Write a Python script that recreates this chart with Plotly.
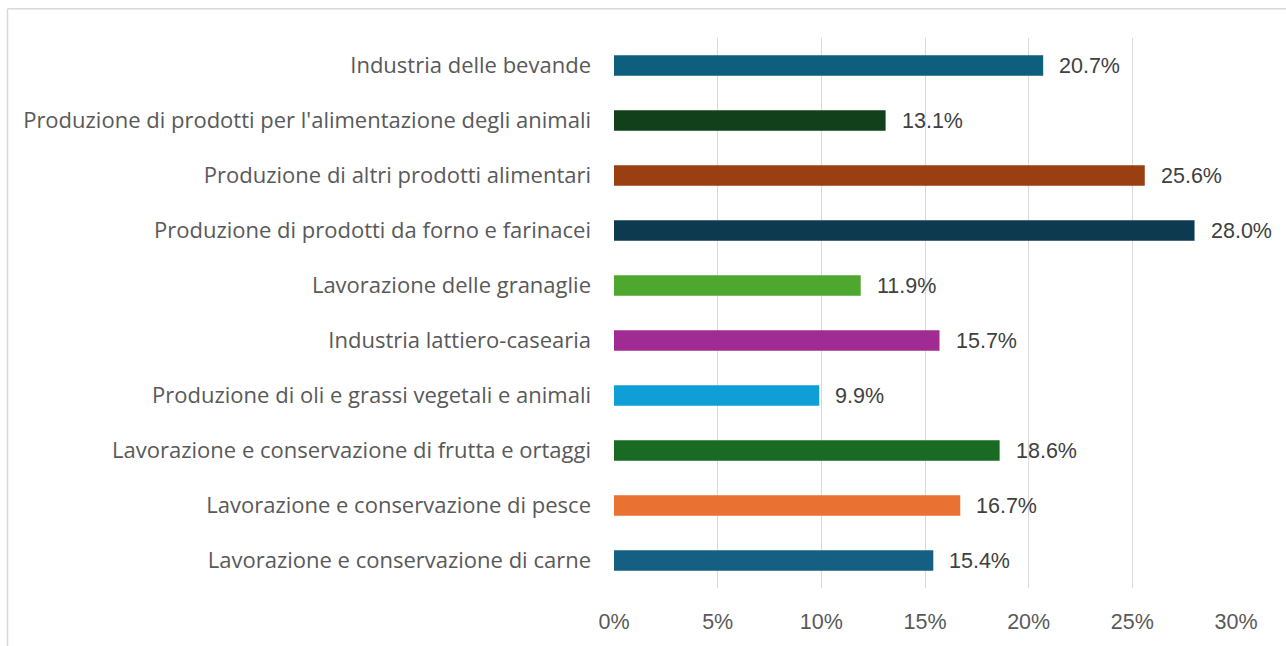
import plotly.graph_objects as go

categories = [
    "Lavorazione e conservazione di carne",
    "Lavorazione e conservazione di pesce",
    "Lavorazione e conservazione di frutta e ortaggi",
    "Produzione di oli e grassi vegetali e animali",
    "Industria lattiero-casearia",
    "Lavorazione delle granaglie",
    "Produzione di prodotti da forno e farinacei",
    "Produzione di altri prodotti alimentari",
    "Produzione di prodotti per l'alimentazione degli animali",
    "Industria delle bevande",
]
values = [15.4, 16.7, 18.6, 9.9, 15.7, 11.9, 28.0, 25.6, 13.1, 20.7]
colors = ["#156082", "#E97132", "#196B24", "#0F9ED5", "#A02B93",
          "#4EA72E", "#0D3A4F", "#9A3F11", "#12401A", "#0E5F7E"]
tick_vals = [0, 5, 10, 15, 20, 25, 30]
tick_text = ["0%", "5%", "10%", "15%", "20%", "25%", "30%"]

W, H = 1286, 646
ML, MR, MT, MB = 614, 50, 38, 55
pw = W - ML - MR
ph = H - MT - MB
FONT_CAT = "Open Sans, Noto Sans, Liberation Sans, Arial"
FONT_NUM = "Liberation Sans, Arial"

fig = go.Figure()
fig.add_trace(go.Bar(
    x=values, y=categories, orientation="h",
    marker=dict(color=colors, line=dict(width=0)),
    width=0.37, hoverinfo="x+y",
))

annotations = []
for c, v in zip(categories, values):
    annotations.append(dict(
        x=v, y=c, xref="x", yref="y", text=f"{v:.1f}%",
        showarrow=False, xanchor="left", xshift=14,
        font=dict(family=FONT_NUM, size=21.5, color="#404040"),
    ))

def px_x(p):
    return (p - ML) / pw

def px_y(p):
    return 1 - (p - MT) / ph

shapes = [
    dict(type="line", xref="paper", yref="paper",
         x0=px_x(7.5), x1=px_x(7.5), y0=px_y(8.5), y1=px_y(H + 5),
         line=dict(color="#D9D9D9", width=1.5)),
    dict(type="line", xref="paper", yref="paper",
         x0=px_x(7.5), x1=px_x(W + 5), y0=px_y(8.5), y1=px_y(8.5),
         line=dict(color="#D9D9D9", width=1.5)),
]

fig.update_layout(
    width=W, height=H,
    margin=dict(l=ML, r=MR, t=MT, b=MB),
    paper_bgcolor="white", plot_bgcolor="white",
    showlegend=False,
    bargap=0.63,
    annotations=annotations,
    shapes=shapes,
    font=dict(family=FONT_CAT, size=22, color="#595959"),
    xaxis=dict(
        range=[0, 30], tickvals=tick_vals, ticktext=tick_text,
        showgrid=True, gridcolor="#D9D9D9", gridwidth=1,
        zeroline=False, showline=False, ticks="",
        ticklabelstandoff=18,
        tickfont=dict(family=FONT_NUM, size=21.5, color="#595959"),
        fixedrange=True,
    ),
    yaxis=dict(
        type="category", showgrid=False, zeroline=False, showline=False,
        ticks="", ticklabelstandoff=22,
        tickfont=dict(family=FONT_CAT, size=22, color="#595959"),
        range=[-0.5, 9.5], fixedrange=True,
    ),
)

fig.write_html("out.html")
